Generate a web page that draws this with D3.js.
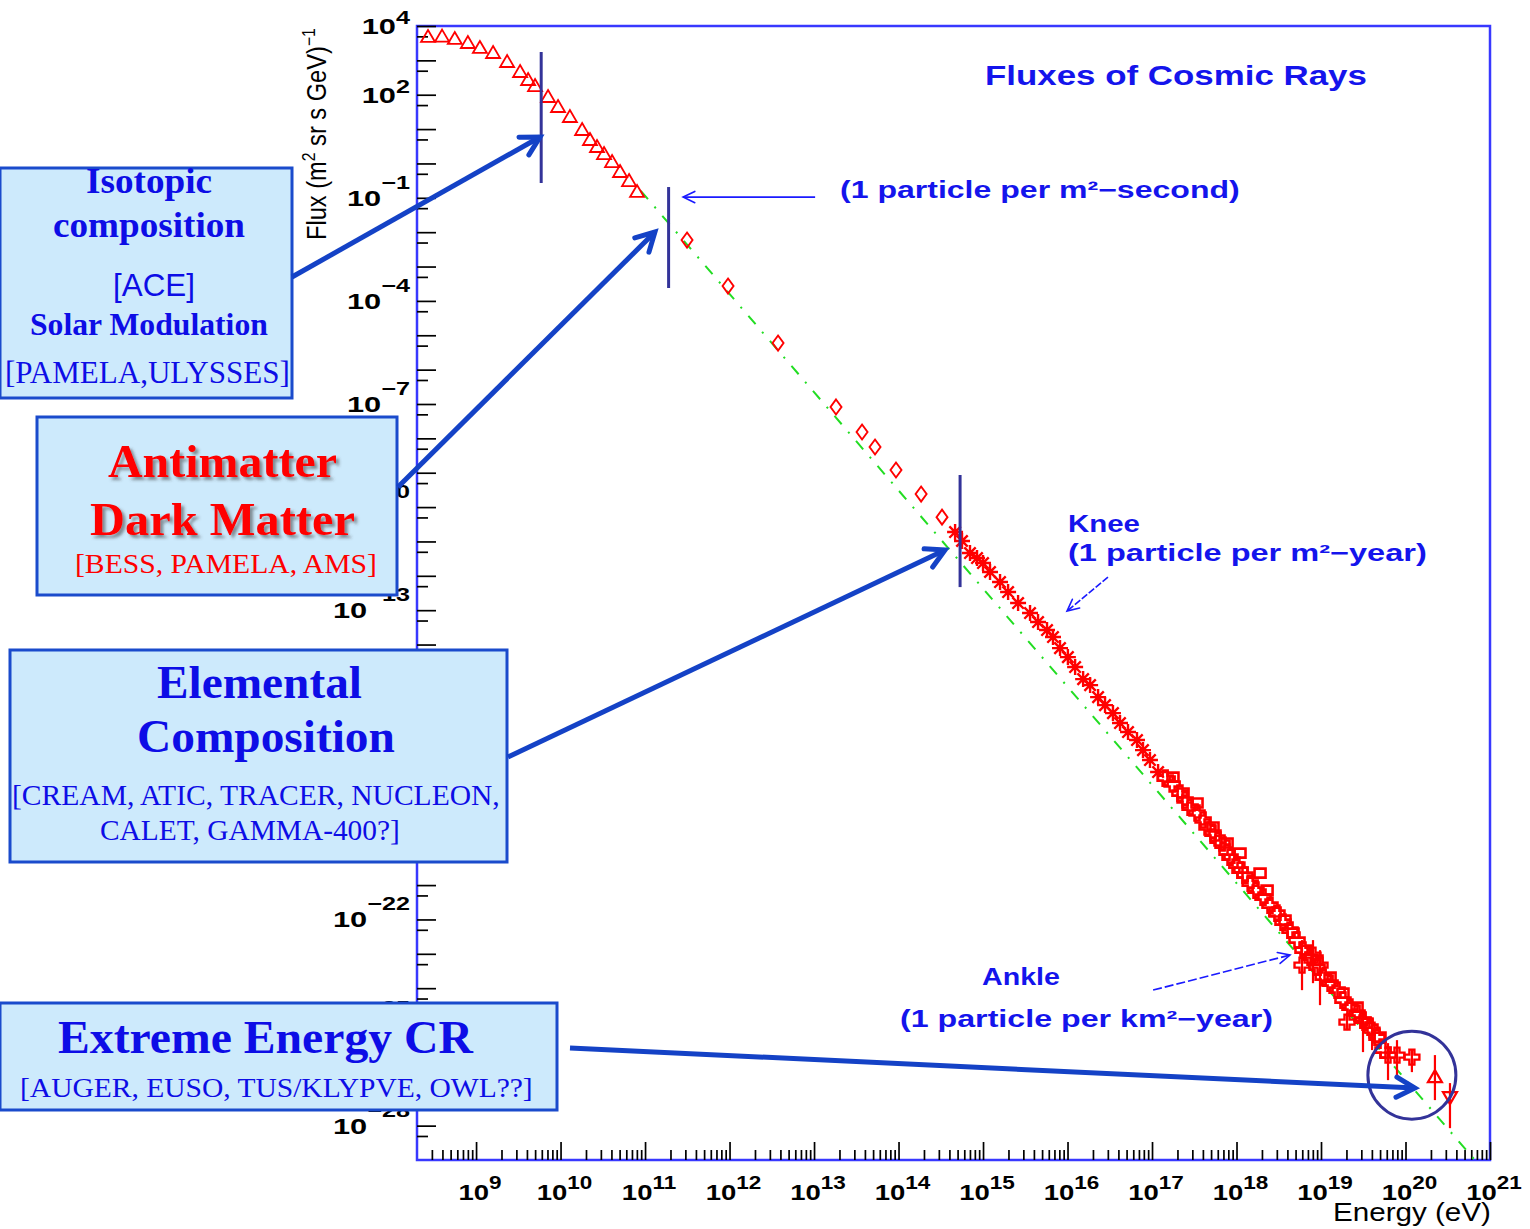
<!DOCTYPE html>
<html>
<head>
<meta charset="utf-8">
<script src="https://cdn.jsdelivr.net/npm/d3@7"></script>
<style>
  body { margin: 0; background: #ffffff; }
  svg { display: block; }
</style>
</head>
<body>
<svg id="chart" width="1530" height="1229"></svg>
<script>
// ---------------- data (energy in eV, flux in (m^2 sr s GeV)^-1) ----------------
// low-energy direct measurements (open triangles)
const triEnergy = [2.7e8, 3.96e8, 5.6e8, 8.0e8, 1.11e9, 1.59e9, 2.33e9, 3.32e9, 4.13e9, 4.99e9,
                   7.11e9, 9.34e9, 1.29e10, 1.80e10, 2.23e10, 2.70e10, 3.27e10, 4.07e10, 5.06e10, 6.47e10, 8.04e10];
const triFlux   = [4.8e3, 4.9e3, 4.2e3, 3.2e3, 2.3e3, 1.64e3, 896, 458, 268, 179,
                   85.9, 44.0, 22.5, 9.4, 4.81, 3.01, 1.88, 1.10, 0.564, 0.308, 0.148];

// balloon / satellite points (open diamonds)
const diaEnergy = [3.14e11, 9.6e11, 3.75e12, 1.82e13, 3.70e13, 5.27e13, 9.33e13, 1.85e14, 3.27e14];
const diaFlux   = [5.9e-3, 2.71e-4, 5.94e-6, 8.2e-8, 1.53e-8, 5.6e-9, 1.20e-9, 2.40e-10, 5.1e-11];

// air-shower points around the knee (asterisks)
const starEnergy = [4.67e14, 5.64e14, 7.01e14, 8.49e14, 1.00e15, 1.21e15, 1.59e15, 1.98e15, 2.60e15,
                    3.60e15, 4.48e15, 5.72e15, 6.73e15, 8.15e15, 1.01e16, 1.23e16, 1.53e16, 1.85e16,
                    2.30e16, 2.78e16, 3.45e16, 4.18e16, 5.20e16, 6.64e16, 7.82e16, 9.46e16, 1.18e17];
const starFlux   = [1.88e-11, 1.03e-11, 4.60e-12, 3.29e-12, 2.35e-12, 1.29e-12, 6.58e-13, 3.37e-13, 1.61e-13,
                    8.24e-14, 4.51e-14, 2.64e-14, 1.65e-14, 7.88e-15, 4.31e-15, 2.21e-15, 9.88e-16, 6.61e-16,
                    2.96e-16, 1.73e-16, 1.01e-16, 5.19e-17, 2.84e-17, 1.66e-17, 8.49e-18, 4.35e-18, 1.95e-18];

// high-energy air-shower points (open crosses)
const crossEnergy = [1.43e17, 1.73e17, 2.14e17, 2.46e17, 2.82e17, 3.41e17, 4.02e17, 4.48e17, 5.27e17, 6.04e17,
                     6.74e17, 7.72e17, 8.38e17, 1.01e18, 1.10e18, 1.26e18, 1.45e18, 1.70e18, 2.06e18, 2.49e18,
                     3.01e18, 3.55e18, 4.30e18, 5.20e18, 6.12e18, 7.41e18, 8.97e18, 1.06e19, 1.28e19, 1.55e19,
                     1.82e19, 2.20e19, 2.67e19, 3.14e19, 3.80e19, 4.60e19, 5.42e19];
const crossFlux   = [1.30e-18, 8.71e-19, 4.76e-19, 2.98e-19, 1.86e-19, 1.25e-19, 7.80e-20, 4.88e-20, 3.26e-20, 2.04e-20,
                     1.67e-20, 9.12e-21, 6.52e-21, 3.82e-21, 2.73e-21, 1.95e-21, 1.14e-21, 7.14e-22, 4.47e-22, 2.61e-22,
                     1.53e-22, 8.37e-23, 4.90e-23, 2.51e-23, 1.28e-23, 8.02e-24, 4.10e-24, 2.10e-24, 1.40e-24, 8.77e-25,
                     4.49e-25, 2.81e-25, 1.88e-25, 1.18e-25, 7.36e-26, 3.77e-26, 1.58e-26];

// second air-shower data set (open squares)
const sqEnergy = [1.77e17, 2.33e17, 3.41e17, 5.27e17, 7.73e17, 1.10e18, 1.90e18, 2.30e18, 2.86e18, 3.75e18,
                  4.67e18, 6.83e18, 8.97e18, 1.28e19, 1.82e19, 2.67e19, 3.50e19, 4.99e19];
const sqFlux   = [1.39e-18, 4.77e-19, 2.44e-19, 4.88e-20, 1.67e-20, 8.53e-21, 2.23e-21, 7.14e-22, 1.64e-22, 9.58e-23,
                  4.01e-23, 1.28e-23, 6.57e-24, 2.10e-24, 7.19e-25, 2.81e-25, 9.62e-26, 3.77e-26];

// ultra-high-energy points with error bars (open crosses)
const uheEnergy = [5.96e18, 8.04e18, 9.73e18, 2.03e19, 3.14e19, 4.02e19, 6.21e19, 7.93e19, 1.19e20];
const uheFlux   = [4.69e-24, 9.16e-24, 4.69e-24, 1.03e-25, 1.18e-25, 6.03e-26, 1.13e-26, 1.13e-26, 9.86e-27];
const uheLow    = [8.77e-25, 1.40e-24, 3.21e-25, 6.03e-26, 1.38e-26, 1.58e-26, 2.11e-27, 2.58e-27, 3.61e-27];
const uheHigh   = [2.51e-23, 2.51e-23, 1.28e-23, 1.88e-25, 1.88e-25, 9.62e-26, 2.52e-26, 3.08e-26, 1.58e-26];

// highest-energy events: triangle up / triangle down
const topEnergy = [2.23e20, 3.36e20];
const topFlux   = [2.58e-27, 6.76e-28];
const topLow    = [5.53e-28, 8.45e-29];
const topHigh   = [1.13e-26, 1.73e-27];
const topShape  = ['up', 'down'];

// single power-law reference line
const refEnergy = [8.9e10, 6.6e20];
const refFlux   = [0.16, 1e-29];

// axis ticks / labels (labels hidden behind the side boxes are left out)
const xLabelExp = [9, 10, 11, 12, 13, 14, 15, 16, 17, 18, 19, 20, 21];
const yLabelExp = [4, 2, -1, -4, -7, -10, -13, -22, -25, -28];

// marked energy regions (vertical bars) and pointer tips
const barEnergy     = [5.9e9, 1.9e11, 5.35e14];
const barFluxTop    = [1.75e3, 0.206, 8.6e-10];
const barFluxBottom = [0.27, 2.37e-4, 4.7e-13];
const pointerEnergy = [5.71e9, 1.31e11, 3.55e14, 1.29e20];
const pointerFlux   = [5.87, 1.01e-2, 5.62e-12, 1.24e-27];

// ---------------- layout ----------------
const svg = d3.select('#chart');
const frame = { left: 417, right: 1490, top: 26, bottom: 1160 };

const x = d3.scaleLog().domain([2e8, 1e21]).range([frame.left, frame.right]);
const y = d3.scaleLog().domain([1e-29, 1e4]).range([frame.bottom, frame.top]);

const RED = '#ff0000';
const NAVY = '#333399';
const BLUE_TXT = '#1414ec';
const ARROW = '#1442c6';

const defs = svg.append('defs');
defs.append('clipPath').attr('id', 'plotClip')
  .append('rect').attr('x', frame.left).attr('y', frame.top)
  .attr('width', frame.right - frame.left).attr('height', frame.bottom - frame.top);
const shadow = defs.append('filter').attr('id', 'shadow')
  .attr('x', '-10%').attr('y', '-20%').attr('width', '130%').attr('height', '160%');
shadow.append('feDropShadow').attr('dx', 3).attr('dy', 3).attr('stdDeviation', 1.6)
  .attr('flood-color', '#404040').attr('flood-opacity', 0.55);

// text helper: draws a (possibly superscripted) string stretched horizontally
function rootText(parent, parts, o) {
  const outer = parent.append('g')
    .attr('transform', `translate(${o.x},${o.y})` + (o.rotate ? ` rotate(${o.rotate})` : ''));
  const inner = outer.append('g');
  const text = inner.append('text')
    .attr('font-family', o.family || 'Liberation Sans')
    .attr('font-size', o.size)
    .attr('font-weight', o.weight || 'normal')
    .attr('fill', o.fill || '#000');
  let prevSup = false;
  parts.forEach(p => {
    const ts = text.append('tspan').text(p.t);
    if (p.sup) ts.attr('font-size', o.supSize).attr('dy', o.supDy);
    else if (prevSup) ts.attr('dy', -o.supDy);
    prevSup = !!p.sup;
  });
  if (o.filter) text.attr('filter', o.filter);
  const w = text.node().getComputedTextLength();
  const sx = o.width ? o.width / w : (o.scale || 1);
  const shift = o.anchor === 'middle' ? -w * sx / 2 : (o.anchor === 'end' ? -w * sx : 0);
  inner.attr('transform', `translate(${shift},0) scale(${sx},1)`);
  return outer;
}

function arrow(g, x1, y1, x2, y2, o) {
  const line = g.append('line').attr('x1', x1).attr('y1', y1).attr('x2', x2).attr('y2', y2)
    .attr('stroke', o.color).attr('stroke-width', o.width).attr('stroke-linecap', 'butt');
  if (o.dash) line.attr('stroke-dasharray', o.dash);
  const a = Math.atan2(y2 - y1, x2 - x1);
  const p1 = [x2 - o.head * Math.cos(a - o.spread), y2 - o.head * Math.sin(a - o.spread)];
  const p2 = [x2 - o.head * Math.cos(a + o.spread), y2 - o.head * Math.sin(a + o.spread)];
  g.append('path').attr('d', `M${p1[0]},${p1[1]}L${x2},${y2}L${p2[0]},${p2[1]}`)
    .attr('fill', 'none').attr('stroke', o.color).attr('stroke-width', o.width)
    .attr('stroke-linejoin', 'miter').attr('stroke-linecap', 'round');
}

// ---------------- frame and ticks ----------------
svg.append('rect')
  .attr('x', frame.left).attr('y', frame.top)
  .attr('width', frame.right - frame.left).attr('height', frame.bottom - frame.top)
  .attr('fill', 'none').attr('stroke', '#3838ff').attr('stroke-width', 2.5);

const xMajor = xLabelExp.map(e => Math.pow(10, e));
const xMinor = [];
for (let n = 8; n <= 20; n++) for (let m = 2; m <= 9; m++) {
  const v = m * Math.pow(10, n);
  if (v > 2.05e8 && v < 1e21) xMinor.push(v);
}
const yMajor = d3.range(-28, 5).map(e => Math.pow(10, e));
const yMinor = d3.range(-29, 4).map(e => 5 * Math.pow(10, e));

function styleTicks(g) {
  g.select('.domain').remove();
  g.selectAll('line').attr('stroke', '#000').attr('stroke-width', 1.7);
}
const axes = svg.append('g');
axes.append('g').attr('transform', `translate(0,${frame.bottom})`)
  .call(d3.axisBottom(x).tickValues(xMajor).tickSize(-18).tickFormat('')).call(styleTicks);
axes.append('g').attr('transform', `translate(0,${frame.bottom})`)
  .call(d3.axisBottom(x).tickValues(xMinor).tickSize(-10).tickFormat('')).call(styleTicks);
axes.append('g').attr('transform', `translate(${frame.left},0)`)
  .call(d3.axisLeft(y).tickValues(yMajor).tickSize(-19).tickFormat('')).call(styleTicks);
axes.append('g').attr('transform', `translate(${frame.left},0)`)
  .call(d3.axisLeft(y).tickValues(yMinor).tickSize(-11).tickFormat('')).call(styleTicks);

// ---------------- tick labels and axis titles ----------------
const fmtExp = e => (e < 0 ? '\u2212' + Math.abs(e) : String(e));
const labels = svg.append('g');
yLabelExp.forEach(e => {
  rootText(labels, [{ t: '10' }, { t: fmtExp(e), sup: true }], {
    x: 410, y: y(Math.pow(10, e)) + 8, anchor: 'end', scale: 1.4, weight: 'bold',
    size: 22, supSize: 18, supDy: e < 0 ? -17 : -10, fill: '#000'
  });
});
xLabelExp.forEach(e => {
  rootText(labels, [{ t: '10' }, { t: fmtExp(e), sup: true }], {
    x: x(Math.pow(10, e)) + 4, y: 1200, anchor: 'middle', scale: 1.25, weight: 'bold',
    size: 22, supSize: 18, supDy: -11, fill: '#000'
  });
});
rootText(labels, [{ t: 'Energy (eV)' }], { x: 1333, y: 1221, width: 158, size: 25, fill: '#000' });
rootText(labels, [{ t: 'Flux (m' }, { t: '2', sup: true }, { t: ' sr s GeV)' }, { t: '\u22121', sup: true }], {
  x: 326, y: 240, rotate: -90, width: 212, size: 27, supSize: 18, supDy: -11, fill: '#000'
});

// ---------------- data ----------------
const plot = svg.append('g').attr('clip-path', 'url(#plotClip)');

// reference power law
plot.append('path')
  .datum(d3.zip(refEnergy, refFlux))
  .attr('d', d3.line().x(d => x(d[0])).y(d => y(d[1])))
  .attr('fill', 'none').attr('stroke', '#22dd22').attr('stroke-width', 2)
  .attr('stroke-dasharray', '11,10,2,10');

const triUp = 'M0,-7L7,5L-7,5Z';
const triDown = 'M0,7L7,-5L-7,-5Z';
const diamond = 'M0,-7.5L5.5,0L0,7.5L-5.5,0Z';
const openCross = 'M-2.5,-7.5H2.5V-2.5H7.5V2.5H2.5V7.5H-2.5V2.5H-7.5V-2.5H-2.5Z';
const asterisk = 'M-8,0H8M0,-8V8M-5.7,-5.7L5.7,5.7M-5.7,5.7L5.7,-5.7';
const square = 'M-5.5,-4.5H5.5V4.5H-5.5Z';

function markers(data, path, cls, sw) {
  plot.append('g').attr('class', cls).selectAll('path').data(data).join('path')
    .attr('d', path)
    .attr('transform', d => `translate(${x(d[0])},${y(d[1])})`)
    .attr('fill', 'none').attr('stroke', RED).attr('stroke-width', sw);
}
function errorBars(energy, low, high) {
  plot.append('g').selectAll('line').data(d3.zip(energy, low, high)).join('line')
    .attr('x1', d => x(d[0])).attr('x2', d => x(d[0]))
    .attr('y1', d => y(d[1])).attr('y2', d => y(d[2]))
    .attr('stroke', RED).attr('stroke-width', 2.2);
}

markers(d3.zip(triEnergy, triFlux), triUp, 'tri', 1.8);
markers(d3.zip(diaEnergy, diaFlux), diamond, 'dia', 1.9);
markers(d3.zip(starEnergy, starFlux), asterisk, 'star', 2.4);
markers(d3.zip(sqEnergy, sqFlux), square, 'sq', 2.6);
markers(d3.zip(crossEnergy, crossFlux), openCross, 'cross', 2.6);
errorBars(uheEnergy, uheLow, uheHigh);
markers(d3.zip(uheEnergy, uheFlux), openCross, 'uhe', 2.4);
errorBars(topEnergy, topLow, topHigh);
plot.append('g').selectAll('path').data(d3.zip(topEnergy, topFlux, topShape)).join('path')
  .attr('d', d => d[2] === 'up' ? triUp : triDown)
  .attr('transform', d => `translate(${x(d[0])},${y(d[1])})`)
  .attr('fill', 'none').attr('stroke', RED).attr('stroke-width', 2.2);

// ---------------- annotations inside the frame ----------------
const ann = svg.append('g');
ann.selectAll('line.bar').data(d3.zip(barEnergy, barFluxTop, barFluxBottom)).join('line')
  .attr('class', 'bar')
  .attr('x1', d => x(d[0])).attr('x2', d => x(d[0]))
  .attr('y1', d => y(d[1])).attr('y2', d => y(d[2]))
  .attr('stroke', NAVY).attr('stroke-width', 3);

ann.append('circle')
  .attr('cx', x(1.19e20)).attr('cy', y(2.95e-27)).attr('r', 44)
  .attr('fill', 'none').attr('stroke', NAVY).attr('stroke-width', 3);

const thin = { color: '#1a1aff', width: 1.6, head: 13, spread: 0.45 };
arrow(ann, x(1.03e13), y(0.105), x(2.82e11), y(0.105), thin);
arrow(ann, x(3.01e16), y(9.2e-13), x(9.86e15), y(9.4e-14), Object.assign({}, thin, { dash: '7,2' }));
arrow(ann, x(1.03e17), y(8.8e-25), x(4.30e18), y(9.2e-24), Object.assign({}, thin, { dash: '9,3' }));

const annText = (t, x0, yb, w, size) =>
  rootText(ann, t, { x: x0, y: yb, width: w, size: size, weight: 'bold', fill: BLUE_TXT, supSize: size * 0.7, supDy: -9 });
annText([{ t: 'Fluxes of Cosmic Rays' }], 985, 85, 382, 27);
annText([{ t: '(1 particle per m\u00b2\u2212second)' }], 840, 198, 400, 24);
annText([{ t: 'Knee' }], 1068, 532, 72, 23);
annText([{ t: '(1 particle per m\u00b2\u2212year)' }], 1068, 561, 359, 23);
annText([{ t: 'Ankle' }], 982, 985, 78, 23);
annText([{ t: '(1 particle per km\u00b2\u2212year)' }], 900, 1027, 373, 23);

// ---------------- side boxes ----------------
const boxes = svg.append('g');
const BOX_FILL = '#cdeafc';
const BOX_EDGE = '#1a4bcc';
const BLUE = '#0d0de6';
function box(x0, y0, w, h) {
  boxes.append('rect').attr('x', x0).attr('y', y0).attr('width', w).attr('height', h)
    .attr('fill', BOX_FILL).attr('stroke', BOX_EDGE).attr('stroke-width', 3);
}
function boxText(t, x0, yb, w, size, weight, fill, family, filter) {
  rootText(boxes, [{ t: t }], { x: x0, y: yb, width: w, size: size, weight: weight, fill: fill,
    family: family || 'Liberation Serif', filter: filter });
}

box(0, 168, 292, 230);
boxText('Isotopic', 86, 193, 126, 36, 'bold', BLUE);
boxText('composition', 53, 237, 192, 36, 'bold', BLUE);
boxText('[ACE]', 113, 296, 82, 31, 'normal', BLUE, 'Liberation Sans');
boxText('Solar Modulation', 30, 335, 238, 31, 'bold', BLUE);
boxText('[PAMELA,ULYSSES]', 5, 383, 285, 31, 'normal', BLUE);

box(37, 417, 360, 178);
boxText('Antimatter', 108, 477, 229, 47, 'bold', RED, null, 'url(#shadow)');
boxText('Dark Matter', 90, 535, 265, 47, 'bold', RED, null, 'url(#shadow)');
boxText('[BESS, PAMELA, AMS]', 75, 573, 302, 28, 'normal', RED);

box(10, 650, 497, 212);
boxText('Elemental', 157, 698, 205, 47, 'bold', BLUE);
boxText('Composition', 137, 752, 258, 47, 'bold', BLUE);
boxText('[CREAM, ATIC, TRACER, NUCLEON,', 12, 805, 488, 29, 'normal', BLUE);
boxText('CALET, GAMMA-400?]', 100, 840, 300, 29, 'normal', BLUE);

box(0, 1003, 557, 107);
boxText('Extreme Energy CR', 58, 1053, 415, 46, 'bold', BLUE);
boxText('[AUGER, EUSO, TUS/KLYPVE, OWL??]', 20, 1097, 513, 28, 'normal', BLUE);

// ---------------- pointers from boxes to spectrum ----------------
const thick = { color: ARROW, width: 5, head: 21, spread: 0.5 };
const pointerStart = [[292, 277], [398, 487], [508, 757], [570, 1048]];
pointerStart.forEach((s, i) => {
  arrow(svg.append('g'), s[0], s[1], x(pointerEnergy[i]), y(pointerFlux[i]), thick);
});
</script>
</body>
</html>
